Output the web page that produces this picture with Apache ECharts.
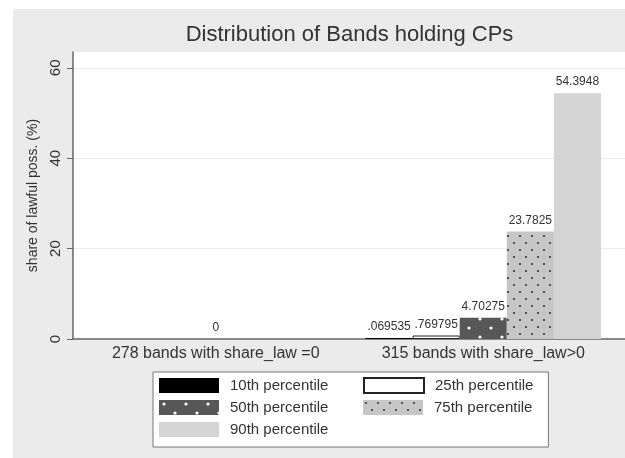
<!DOCTYPE html>
<html>
<head>
<meta charset="utf-8">
<script src="https://cdn.jsdelivr.net/npm/echarts@6/dist/echarts.min.js"></script>
<style>
  html, body { margin: 0; padding: 0; background: #ffffff; width: 625px; height: 458px; overflow: hidden; }
  #chart { position: absolute; left: 13px; top: 9px; width: 612px; height: 449px; }
</style>
</head>
<body>
<div id="chart"></div>
<script>
// ---- data ----
const titleText = 'Distribution of Bands holding CPs';
const yAxisTitle = 'share of lawful poss. (%)';
const categories = ['278 bands with share_law =0', '315 bands with share_law>0'];
const seriesNames = ['10th percentile', '25th percentile', '50th percentile', '75th percentile', '90th percentile'];
const p10 = [null, 0.069535];
const p25 = [null, 0.769795];
const p50 = [0, 4.70275];
const p75 = [null, 23.7825];
const p90 = [null, 54.3948];
const yTickValues = [0, 20, 40, 60];
const yMin = 0;
const yMax = 63.5;

// ---- patterns ----
function makePattern(w, h, bg, dotColor, dots, r) {
  const c = document.createElement('canvas');
  c.width = w; c.height = h;
  const ctx = c.getContext('2d');
  ctx.fillStyle = bg; ctx.fillRect(0, 0, w, h);
  ctx.fillStyle = dotColor;
  dots.forEach(d => { ctx.beginPath(); ctx.arc(d[0], d[1], r, 0, Math.PI * 2); ctx.fill(); });
  return { image: c, repeat: 'repeat' };
}
const pat50 = makePattern(22, 18, '#575757', '#ffffff', [[5, 4], [16, 13]], 1.6);
const pat75 = makePattern(12, 14, '#c6c6c6', '#2a2a2a', [[3, 3], [9, 10]], 1.0);

const styles = [
  { color: '#000000' },
  { color: '#ffffff', borderColor: '#222222', borderWidth: 1 },
  { color: pat50 },
  { color: pat75 },
  { color: '#d4d4d4' }
];
const values = [p10, p25, p50, p75, p90];

const fmt = v => String(v).replace(/^0\./, '.');
const FONT = 'Liberation Sans, Arial, Helvetica, sans-serif';

const chart = echarts.init(document.getElementById('chart'), null, { renderer: 'canvas' });

const series = values.map((vals, i) => ({
  name: seriesNames[i],
  type: 'bar',
  xAxisIndex: 1,
  yAxisIndex: 1,
  data: vals,
  barGap: '0%',
  barCategoryGap: '12%',
  barMinHeight: i === 0 ? 1 : 0,
  itemStyle: styles[i],
  label: {
    show: true,
    position: 'top',
    distance: 5,
    fontFamily: FONT,
    fontSize: 12,
    color: '#333',
    formatter: p => fmt(p.value)
  },
  emphasis: { disabled: true },
  animation: false
}));

chart.setOption({
  animation: false,
  backgroundColor: '#ebebeb',
  textStyle: { fontFamily: FONT },
  title: {
    text: titleText,
    left: 336.5,
    textAlign: 'center',
    top: 15,
    padding: 0,
    textStyle: { fontFamily: FONT, fontSize: 22, fontWeight: 'normal', color: '#333' }
  },
  legend: {
    data: seriesNames,
    left: 140,
    top: 363,
    orient: 'horizontal',
    width: 420,
    itemWidth: 60,
    itemHeight: 15,
    itemGap: 5,
    icon: 'rect',
    padding: [5, 15, 9, 6],
    borderColor: '#777',
    borderWidth: 1,
    backgroundColor: '#ffffff',
    borderRadius: 0,
    selectedMode: false,
    formatter: name => (seriesNames.indexOf(name) % 2 === 0 ? '{a|' + name + '}' : '{b|' + name + '}'),
    textStyle: {
      fontFamily: FONT, fontSize: 15, color: '#333', lineHeight: 17,
      rich: {
        a: { width: 128, padding: [0, 0, 0, 6], fontFamily: FONT, fontSize: 15, color: '#333', lineHeight: 17 },
        b: { padding: [0, 0, 0, 6], fontFamily: FONT, fontSize: 15, color: '#333', lineHeight: 17 }
      }
    }
  },
  grid: [
    { left: 60, right: 0, top: 43, bottom: 119, show: true, backgroundColor: '#ffffff', borderWidth: 0 },
    { left: 69, right: 8, top: 43, bottom: 119 }
  ],
  xAxis: [
    {
      gridIndex: 0, type: 'value', min: 0, max: 1,
      axisLine: { show: true, lineStyle: { color: '#666', width: 1.5 } },
      axisTick: { show: false }, axisLabel: { show: false }, splitLine: { show: false }
    },
    {
      gridIndex: 1, type: 'category', data: categories,
      axisLine: { show: false }, axisTick: { show: false },
      axisLabel: { show: true, interval: 0, hideOverlap: false, margin: 7, fontFamily: FONT, fontSize: 16, color: '#333' },
      splitLine: { show: false }
    }
  ],
  yAxis: [
    {
      gridIndex: 0, type: 'value', min: yMin, max: yMax, interval: 20,
      name: yAxisTitle, nameLocation: 'middle', nameGap: 32, nameRotate: 90,
      nameTextStyle: { fontFamily: FONT, fontSize: 14, color: '#333' },
      axisLine: { show: true, lineStyle: { color: '#666', width: 1.5 } },
      axisTick: { show: true, length: 6, lineStyle: { color: '#666', width: 1 }, customValues: yTickValues },
      axisLabel: {
        show: true, rotate: 90, margin: 10, fontFamily: FONT, fontSize: 15, color: '#333',
        customValues: yTickValues,
        formatter: v => (yTickValues.indexOf(v) >= 0 ? String(v) : '')
      },
      splitLine: { show: true, lineStyle: { color: '#ececec', width: 1 } }
    },
    {
      gridIndex: 1, type: 'value', min: yMin, max: yMax, show: false,
      splitLine: { show: false }
    }
  ],
  series: series
});
</script>
</body>
</html>
